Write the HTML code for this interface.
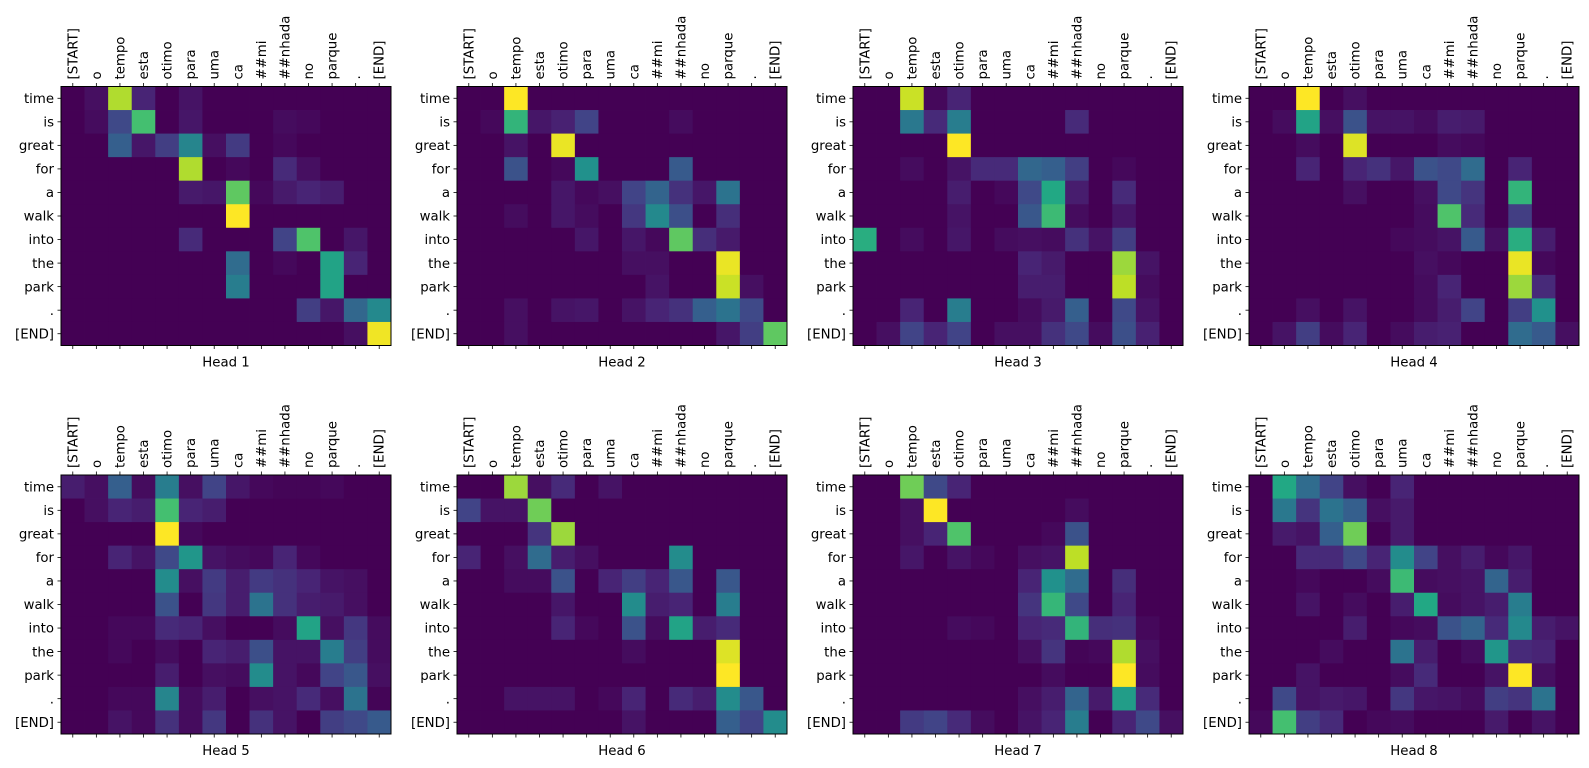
<!DOCTYPE html>
<html><head><meta charset="utf-8"><style>
html,body{margin:0;padding:0;background:#fff;}
svg{display:block;font-family:"DejaVu Sans","Liberation Sans",sans-serif;}
</style></head><body>
<svg id="chart" width="1589" height="768" viewBox="0 0 1589 768" xmlns="http://www.w3.org/2000/svg"></svg>
<script>
const xLabels = ["[START]","o","tempo","esta","otimo","para","uma","ca","##mi","##nhada","no","parque",".","[END]"];
const yLabels = ["time","is","great","for","a","walk","into","the","park",".","[END]"];
const headTitles = ["Head 1","Head 2","Head 3","Head 4","Head 5","Head 6","Head 7","Head 8"];
const head1 = [
[0,.04,.88,.1,0,.05,0,0,0,0,0,0,0,0],
[0,.03,.22,.7,0,.06,0,0,0,.03,.02,0,0,0],
[0,0,.3,.06,.18,.45,.04,.17,0,.02,0,0,0,0],
[0,0,0,0,0,.88,0,.02,0,.12,.04,0,0,0],
[0,0,0,0,0,.07,.06,.75,.02,.07,.1,.08,0,0],
[0,0,0,0,0,0,0,1,0,0,0,0,0,0],
[0,0,0,0,0,.12,0,0,0,.2,.72,0,.06,0],
[0,0,0,0,0,0,0,.35,0,.02,0,.58,.1,0],
[0,0,0,0,0,0,0,.42,0,0,0,.58,0,0],
[0,0,0,0,0,0,0,0,0,0,.18,.06,.33,.47],
[0,0,0,0,0,0,0,0,0,0,0,0,.04,.98]];
const head2 = [
[0,0,1,0,0,0,0,0,0,0,0,0,0,0],
[0,.02,.65,.06,.09,.2,0,0,0,.03,0,0,0,0],
[0,0,.05,0,.97,0,0,0,0,0,0,0,0,0],
[0,0,.25,0,.02,.5,0,0,0,.28,0,0,0,0],
[0,0,0,0,.06,.02,.04,.2,.32,.14,.06,.38,0,0],
[0,0,.03,0,.06,.03,0,.16,.47,.24,0,.13,0,0],
[0,0,0,0,0,.06,0,.06,.02,.75,.13,.07,0,0],
[0,0,0,0,0,0,0,.04,.04,0,0,.97,0,0],
[0,0,0,0,0,0,0,0,.05,0,0,.92,.04,0],
[0,0,.04,0,.05,.06,0,.05,.1,.14,.3,.38,.22,0],
[0,0,.04,0,0,0,0,0,0,0,0,.06,.18,.75]];
const head3 = [
[0,0,.92,.02,.1,0,0,0,0,0,0,0,0,0],
[0,0,.4,.12,.42,0,0,0,0,.12,0,0,0,0],
[0,0,0,0,1,0,0,0,0,0,0,0,0,0],
[0,0,.03,0,.05,.12,.12,.33,.3,.18,0,.02,0,0],
[0,0,0,0,.08,0,.02,.22,.6,.08,0,.12,0,0],
[0,0,0,0,.05,0,0,.27,.68,.03,0,.06,0,0],
[.62,0,.03,0,.06,0,.03,.04,.03,.14,.05,.18,0,0],
[0,0,0,0,0,0,0,.1,.07,0,0,.85,.05,0],
[0,0,0,0,0,0,0,.08,.08,0,0,.9,.03,0],
[0,0,.1,0,.42,0,0,.03,.07,.3,0,.22,.05,0],
[0,.04,.2,.1,.2,0,.04,.04,.14,.22,.03,.24,.09,0]];
const head4 = [
[0,0,1,0,.04,0,0,0,0,0,0,0,0,0],
[0,.03,.58,.04,.25,.05,.05,.03,.08,.07,0,0,0,0],
[0,0,.03,0,.95,0,0,0,.03,.02,0,0,0,0],
[0,0,.1,0,.1,.14,.06,.25,.22,.35,0,.1,0,0],
[0,0,0,0,.04,0,0,.04,.22,.15,0,.65,0,0],
[0,0,0,0,0,0,0,.03,.72,.12,0,.18,0,0],
[0,0,0,0,0,0,.02,.03,.05,.28,.04,.62,.08,0],
[0,0,0,0,0,0,0,.04,.02,0,0,.97,.02,0],
[0,0,0,0,0,0,0,.03,.1,0,0,.85,.12,0],
[0,0,.04,0,.05,0,0,.03,.08,.2,0,.18,.5,0],
[0,.05,.18,.03,.1,0,.03,.08,.09,0,0,.35,.28,.04]];
const head5 = [
[.08,.04,.3,.03,.42,.04,.2,.06,.02,.01,.01,.02,0,0],
[0,.04,.1,.08,.7,.1,.08,0,0,0,0,0,0,0],
[0,0,0,0,1,.02,0,0,0,0,0,0,0,0],
[0,0,.1,.05,.22,.52,.05,.03,.02,.1,.02,0,0,0],
[0,0,0,0,.48,.04,.17,.08,.17,.14,.1,.05,.04,0],
[0,0,0,0,.25,0,.16,.08,.38,.14,.08,.07,.04,0],
[0,0,.02,.02,.12,.1,.04,0,0,.03,.58,.04,.16,.03],
[0,0,.02,0,.03,0,.1,.08,.24,.05,.05,.42,.18,.03],
[0,0,0,0,.08,0,.04,.03,.48,.05,.02,.2,.27,.04],
[0,0,.02,.02,.45,.03,.08,0,.04,.05,.12,.04,.38,.01],
[0,0,.05,.02,.14,.03,.16,0,.14,.05,0,.18,.22,.28]];
const head6 = [
[0,0,.85,.04,.12,0,.05,0,0,0,0,0,0,0],
[.2,.05,.05,.78,0,0,0,0,0,0,0,0,0,0],
[0,0,0,.15,.85,0,0,0,0,0,0,0,0,0],
[.1,0,.04,.35,.08,.04,0,0,0,.48,0,0,0,0],
[0,0,.03,.03,.25,0,.1,.18,.1,.27,0,.27,0,0],
[0,0,0,0,.06,0,0,.48,.08,.1,0,.42,0,0],
[0,0,0,0,.1,.02,0,.25,.03,.58,.08,.12,0,0],
[0,0,0,0,0,0,0,.03,0,0,0,.95,0,0],
[0,0,0,0,0,0,0,0,0,0,0,1,0,0],
[0,0,.05,.05,.05,0,.02,.1,0,.12,.08,.48,.27,0],
[0,0,0,0,0,0,0,.05,0,0,0,.3,.2,.48]];
const head7 = [
[0,0,.78,.22,.1,0,0,0,0,0,0,0,0,0],
[0,0,.04,1,0,0,0,0,0,.03,0,0,0,0],
[0,0,.04,.1,.72,0,0,0,.02,.25,0,0,0,0],
[0,0,.06,0,.05,.02,0,.04,.05,.9,0,0,0,0],
[0,0,0,0,0,0,0,.1,.5,.35,0,.13,0,0],
[0,0,0,0,0,0,0,.15,.66,.22,0,.1,0,0],
[0,0,0,0,.03,.02,0,.1,.12,.65,.13,.14,.02,0],
[0,0,0,0,0,0,0,.04,.15,.01,.02,.88,.04,0],
[0,0,0,0,0,0,0,0,.03,0,0,1,.03,0],
[0,0,0,0,0,0,0,.04,.08,.32,.07,.55,.12,0],
[0,0,.17,.2,.12,.03,0,.05,.1,.42,0,.1,.22,.04]];
const head8 = [
[0,.6,.35,.2,.04,0,.1,0,0,0,0,0,0,0],
[0,.4,.15,.38,.3,.04,.07,0,0,0,0,0,0,0],
[0,.07,.05,.3,.78,0,.07,0,0,0,0,0,0,0],
[0,0,.12,.12,.22,.1,.48,.2,.04,.08,.02,.06,0,0],
[0,0,.02,0,0,.03,.68,.03,.04,.05,.32,.08,0,0],
[0,0,.05,0,.03,0,.08,.6,.03,.05,.08,.42,0,0],
[0,0,0,0,.08,0,.02,.03,.25,.32,.12,.47,.08,.05],
[0,0,0,.03,0,0,.38,.08,0,.03,.52,.12,.1,0],
[0,0,.05,0,0,0,.03,.12,0,0,.05,1,.04,0],
[0,.22,.05,.07,.06,0,.16,.06,.05,.03,.18,.15,.38,0],
[.02,.7,.18,.12,0,.02,.03,0,0,0,.07,0,.05,0]];
const heads = [head1,head2,head3,head4,head5,head6,head7,head8];

const viridis = ["#440154","#482475","#414487","#355f8d","#2a788e","#21918c","#22a884","#44bf70","#7ad151","#bddf26","#fde725"];
function hex2rgb(h){return [1,3,5].map(i=>parseInt(h.substr(i,2),16));}
function colorFor(v){
  v=Math.max(0,Math.min(1,v));const p=v*10;const i=Math.min(9,Math.floor(p));const t=p-i;
  const a=hex2rgb(viridis[i]),b=hex2rgb(viridis[i+1]);
  return "rgb("+a.map((c,k)=>Math.round(c+(b[k]-c)*t)).join(",")+")";
}
const NS="http://www.w3.org/2000/svg";
const svg=document.getElementById("chart");
function mk(tag,attrs,parent){const e=document.createElementNS(NS,tag);for(const k in attrs)e.setAttribute(k,attrs[k]);(parent||svg).appendChild(e);return e;}
const lefts=[61,457,853,1249], tops=[86.5,475];
const W=330, H=259;
heads.forEach((data,hi)=>{
  const x0=lefts[hi%4], y0=tops[Math.floor(hi/4)];
  const nx=xLabels.length, ny=yLabels.length;
  const cw=W/nx, ch=H/ny;
  const xPos=c=>x0+c*cw, yPos=r=>y0+r*ch;
  const g=mk("g",{});
  
  
  data.forEach((row,r)=>row.forEach((v,c)=>{
    const rc=mk("rect",{x:xPos(c),y:yPos(r),width:cw+0.4,height:ch+0.4,fill:colorFor(v)},g);
    
    
  }));
  const fr=mk("rect",{x:x0,y:y0,width:W,height:H,fill:"none",stroke:"#000","stroke-width":1},g);
  
  
  xLabels.forEach((lab,c)=>{
    const cx=xPos(c)+cw/2;
    mk("line",{x1:cx,y1:y0,x2:cx,y2:y0-3.5,stroke:"#000","stroke-width":0.8},g);
    mk("line",{x1:cx,y1:y0+H,x2:cx,y2:y0+H+3.5,stroke:"#000","stroke-width":0.8},g);
    const t=mk("text",{x:0,y:0,transform:"translate("+(cx+4.5)+","+(y0-7)+") rotate(-90)","font-size":"13.3",fill:"#000"},g);
    t.textContent=lab;
    
    
  });
  yLabels.forEach((lab,r)=>{
    const cy=yPos(r)+ch/2;
    mk("line",{x1:x0,y1:cy,x2:x0-3.5,y2:cy,stroke:"#000","stroke-width":0.8},g);
    const t=mk("text",{x:x0-7,y:cy+4.7,"text-anchor":"end","font-size":"13.3",fill:"#000"},g);
    t.textContent=lab;
    
    
  });
  const tt=mk("text",{x:x0+W/2,y:y0+H+21,"text-anchor":"middle","font-size":"13.3",fill:"#000"},g);
  tt.textContent=headTitles[hi];
  
  
});
</script>
</body></html>
